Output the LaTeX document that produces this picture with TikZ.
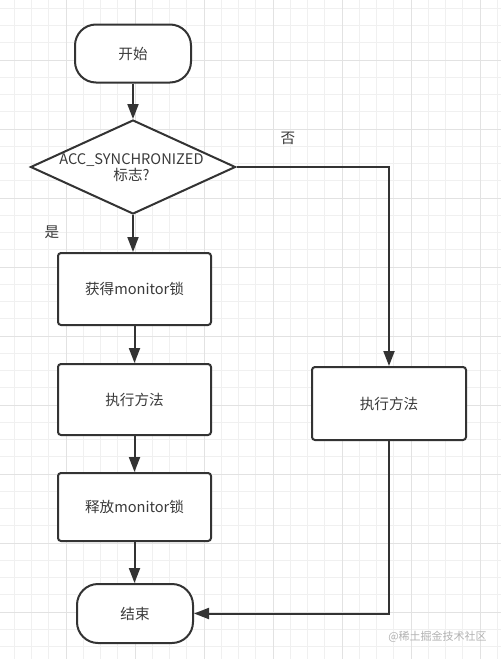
\documentclass[tikz,border=0pt]{standalone}
\usepackage{fontspec}
\setmainfont{Noto Sans CJK SC}
\usetikzlibrary{shapes.geometric,arrows.meta}
\definecolor{ink}{HTML}{333333}
\definecolor{txt}{HTML}{3A3A3A}
\definecolor{gminor}{HTML}{F0F0F0}
\definecolor{gmajor}{HTML}{E2E2E2}
\tikzset{
  base/.style={draw=ink, line width=2pt, fill=white, text=txt, font=\fontsize{14.6}{17}\selectfont, inner sep=0pt},
  pill/.style={base, rectangle, rounded corners=21pt, minimum width=116pt, minimum height=58pt},
  procbox/.style={base, rectangle, rounded corners=3pt, minimum width=153pt, minimum height=71pt},
  decide/.style={base, diamond, minimum width=205pt, minimum height=94pt},
  lbl/.style={text=txt, font=\fontsize{14.6}{17}\selectfont, inner sep=0pt},
  conn/.style={draw=ink, line width=2pt, -{Triangle[length=15pt,width=11pt]}},
  wire/.style={draw=ink, line width=2pt}
}
\begin{document}
\begin{tikzpicture}[x=1pt,y=-1pt]
\useasboundingbox (0,0) rectangle (501,659);
\fill[white] (0,0) rectangle (501,659);
% grid
\foreach \k in {0,...,28} {
  \pgfmathsetmacro{\xx}{14.25+17.25*\k}
  \draw[gminor, line width=0.9pt] (\xx,0) -- (\xx,659);
}
\foreach \k in {0,...,38} {
  \pgfmathsetmacro{\yy}{8.25+17.25*\k}
  \draw[gminor, line width=0.9pt] (0,\yy) -- (501,\yy);
}
\foreach \k in {0,...,6} {
  \pgfmathsetmacro{\xx}{66+69*\k}
  \draw[gmajor, line width=1pt] (\xx,0) -- (\xx,659);
}
\foreach \k in {0,...,8} {
  \pgfmathsetmacro{\yy}{60+69*\k}
  \draw[gmajor, line width=1pt] (0,\yy) -- (501,\yy);
}
% nodes
\node[pill] (start) at (133,53.5) {开始};
\node[decide] (dec) at (133,167) {};
\node[lbl, align=center] (dectext) at (131.5,168) {ACC\_SYNCHRONIZED\\[-1pt]标志?};
\node[procbox, minimum height=72pt] (acq) at (134.5,289) {获得monitor锁};
\node[procbox] (exec) at (134.5,399.5) {执行方法};
\node[procbox, minimum height=68pt] (rel) at (134.5,507) {释放monitor锁};
\node[pill, minimum height=59pt] (stop) at (135,613.5) {结束};
\node[procbox, minimum width=154pt, minimum height=73pt] (exec2) at (389,403.5) {执行方法};
\node[lbl] (no) at (288,138) {否};
\node[lbl] (yes) at (52,232) {是};
\node[text=black!30, font=\fontsize{11}{13}\selectfont, inner sep=0pt] (wm) at (437.5,637) {@稀土掘金技术社区};
% connectors
\draw[conn] (start.south) -- (start.south |- dec.north);
\draw[conn] (dec.south) -- (dec.south |- acq.north);
\draw[conn] (acq.south) -- (exec.north);
\draw[conn] (exec.south) -- (rel.north);
\draw[conn] (rel.south) -- (rel.south |- stop.north);
\draw[conn] (dec.east) -| (exec2.north);
\draw[conn] (exec2.south) |- (stop.east);
\end{tikzpicture}
\end{document}
